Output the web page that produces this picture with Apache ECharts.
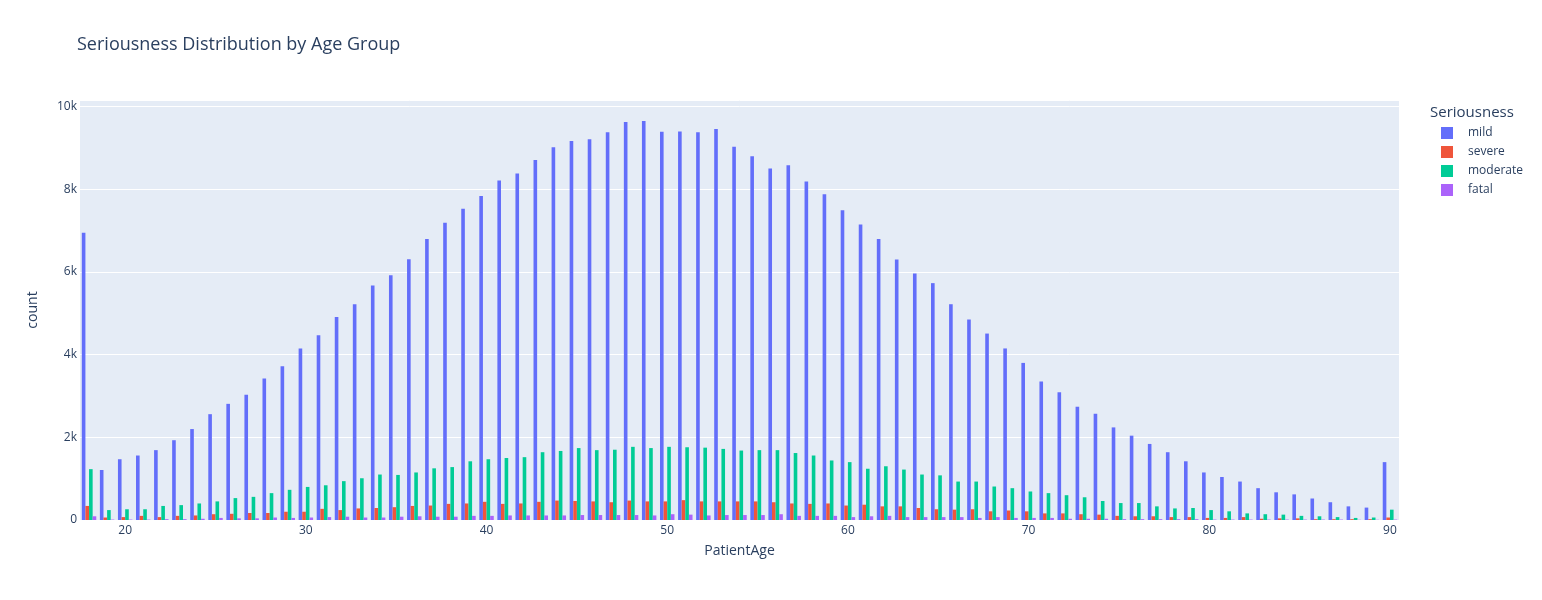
<!DOCTYPE html>
<html>
<head>
<meta charset="utf-8">
<script src="https://cdn.jsdelivr.net/npm/echarts@6/dist/echarts.min.js"></script>
<style>
    html, body { margin: 0; padding: 0; background: #fff; }
    #chart { width: 1542px; height: 600px; }
</style>
</head>
<body>
<div id="chart"></div>
<script>
// ages 18..90
let ages = [];
for (let a = 18; a <= 90; a++) ages.push(String(a));

let seriousness = ['mild', 'severe', 'moderate', 'fatal'];

let mild = [6950, 1210, 1470, 1560, 1690, 1930, 2200, 2560, 2810, 3030,
    3420, 3720, 4150, 4470, 4910, 5220, 5670, 5920, 6310, 6800,
    7190, 7530, 7840, 8210, 8380, 8710, 9020, 9170, 9210, 9380,
    9630, 9650, 9390, 9400, 9380, 9460, 9030, 8800, 8500, 8580,
    8190, 7880, 7490, 7150, 6800, 6300, 5960, 5730, 5220, 4850,
    4510, 4150, 3800, 3350, 3090, 2740, 2570, 2240, 2040, 1840,
    1640, 1420, 1150, 1040, 930, 770, 670, 620, 520, 430,
    330, 300, 1400];

let severe = [340, 60, 70, 100, 70, 100, 110, 140, 150, 170,
    170, 200, 200, 270, 240, 280, 290, 310, 340, 350,
    390, 400, 440, 390, 400, 440, 470, 460, 450, 430,
    470, 450, 450, 480, 450, 450, 450, 450, 430, 400,
    390, 400, 350, 370, 330, 330, 290, 260, 250, 260,
    210, 230, 210, 160, 160, 140, 130, 100, 90, 90,
    70, 70, 50, 50, 70, 30, 40, 40, 20, 20,
    20, 20, 60];

let moderate = [1230, 240, 260, 260, 340, 360, 400, 450, 530, 560,
    650, 730, 800, 840, 940, 1010, 1100, 1090, 1150, 1250,
    1280, 1420, 1470, 1500, 1520, 1640, 1670, 1740, 1690, 1700,
    1770, 1740, 1770, 1760, 1750, 1720, 1680, 1690, 1690, 1620,
    1560, 1440, 1400, 1240, 1300, 1220, 1100, 1080, 930, 930,
    810, 770, 690, 650, 600, 550, 460, 410, 410, 330,
    280, 290, 240, 210, 160, 140, 130, 100, 90, 70,
    50, 60, 250];

let fatal = [90, 10, 10, 10, 20, 20, 30, 50, 40, 40,
    60, 50, 60, 70, 80, 60, 60, 80, 90, 80,
    80, 100, 100, 110, 110, 110, 110, 120, 120, 120,
    120, 110, 140, 130, 110, 120, 120, 120, 140, 100,
    100, 100, 70, 90, 100, 70, 70, 70, 70, 50,
    70, 50, 50, 50, 30, 30, 30, 20, 20, 20,
    20, 20, 10, 10, 10, 10, 10, 10, 10, 10,
    5, 5, 10];

let colors = ['#636efa', '#EF553B', '#00cc96', '#ab63fa'];
let values = [mild, severe, moderate, fatal];

let textColor = '#2a3f5f';
let fontFamily = '"Open Sans", "Noto Sans", sans-serif';

let series = seriousness.map(function (name, i) {
    return {
        name: name,
        type: 'bar',
        data: values[i],
        barGap: '0%',
        barCategoryGap: '20%',
        itemStyle: { color: colors[i] }
    };
});

let chart = echarts.init(document.getElementById('chart'));
chart.setOption({
    animation: false,
    color: colors,
    textStyle: { fontFamily: fontFamily, color: textColor },
    title: [{
        text: 'Seriousness Distribution by Age Group',
        left: 72,
        top: 31,
        textStyle: { fontSize: 18, fontWeight: 'normal', color: textColor, fontFamily: fontFamily }
    }, {
        text: 'Seriousness',
        left: 1425,
        top: 100,
        textStyle: { fontSize: 15, fontWeight: 'normal', color: textColor, fontFamily: fontFamily }
    }],
    legend: {
        orient: 'vertical',
        left: 1436,
        top: 122,
        itemWidth: 12,
        itemHeight: 12,
        itemGap: 7,
        icon: 'rect',
        data: seriousness,
        textStyle: { fontSize: 12, color: textColor, fontFamily: fontFamily, padding: [0, 0, 0, 10] }
    },
    grid: {
        left: 80,
        right: 143,
        top: 100,
        bottom: 80,
        show: true,
        backgroundColor: '#E5ECF6',
        borderWidth: 0
    },
    xAxis: {
        type: 'category',
        data: ages,
        name: 'PatientAge',
        nameLocation: 'middle',
        nameGap: 24,
        nameTextStyle: { fontSize: 14, color: textColor },
        axisLine: { show: false },
        axisTick: { show: false },
        axisLabel: {
            fontSize: 12,
            color: textColor,
            margin: 5,
            interval: function (idx, val) { return Number(val) % 10 === 0; }
        },
        splitLine: { show: false }
    },
    yAxis: {
        type: 'value',
        min: 0,
        max: 10160,
        interval: 2000,
        name: 'count',
        nameLocation: 'middle',
        nameGap: 40,
        nameTextStyle: { fontSize: 14, color: textColor },
        axisLine: { show: false },
        axisTick: { show: false },
        axisLabel: {
            fontSize: 12,
            color: textColor,
            margin: 3,
            showMaxLabel: false,
            formatter: function (v) {
                if (v % 2000 !== 0) return '';
                return v === 0 ? '0' : (v / 1000) + 'k';
            }
        },
        splitLine: { lineStyle: { color: '#ffffff', width: 1 } }
    },
    series: series
});
</script>
</body>
</html>
